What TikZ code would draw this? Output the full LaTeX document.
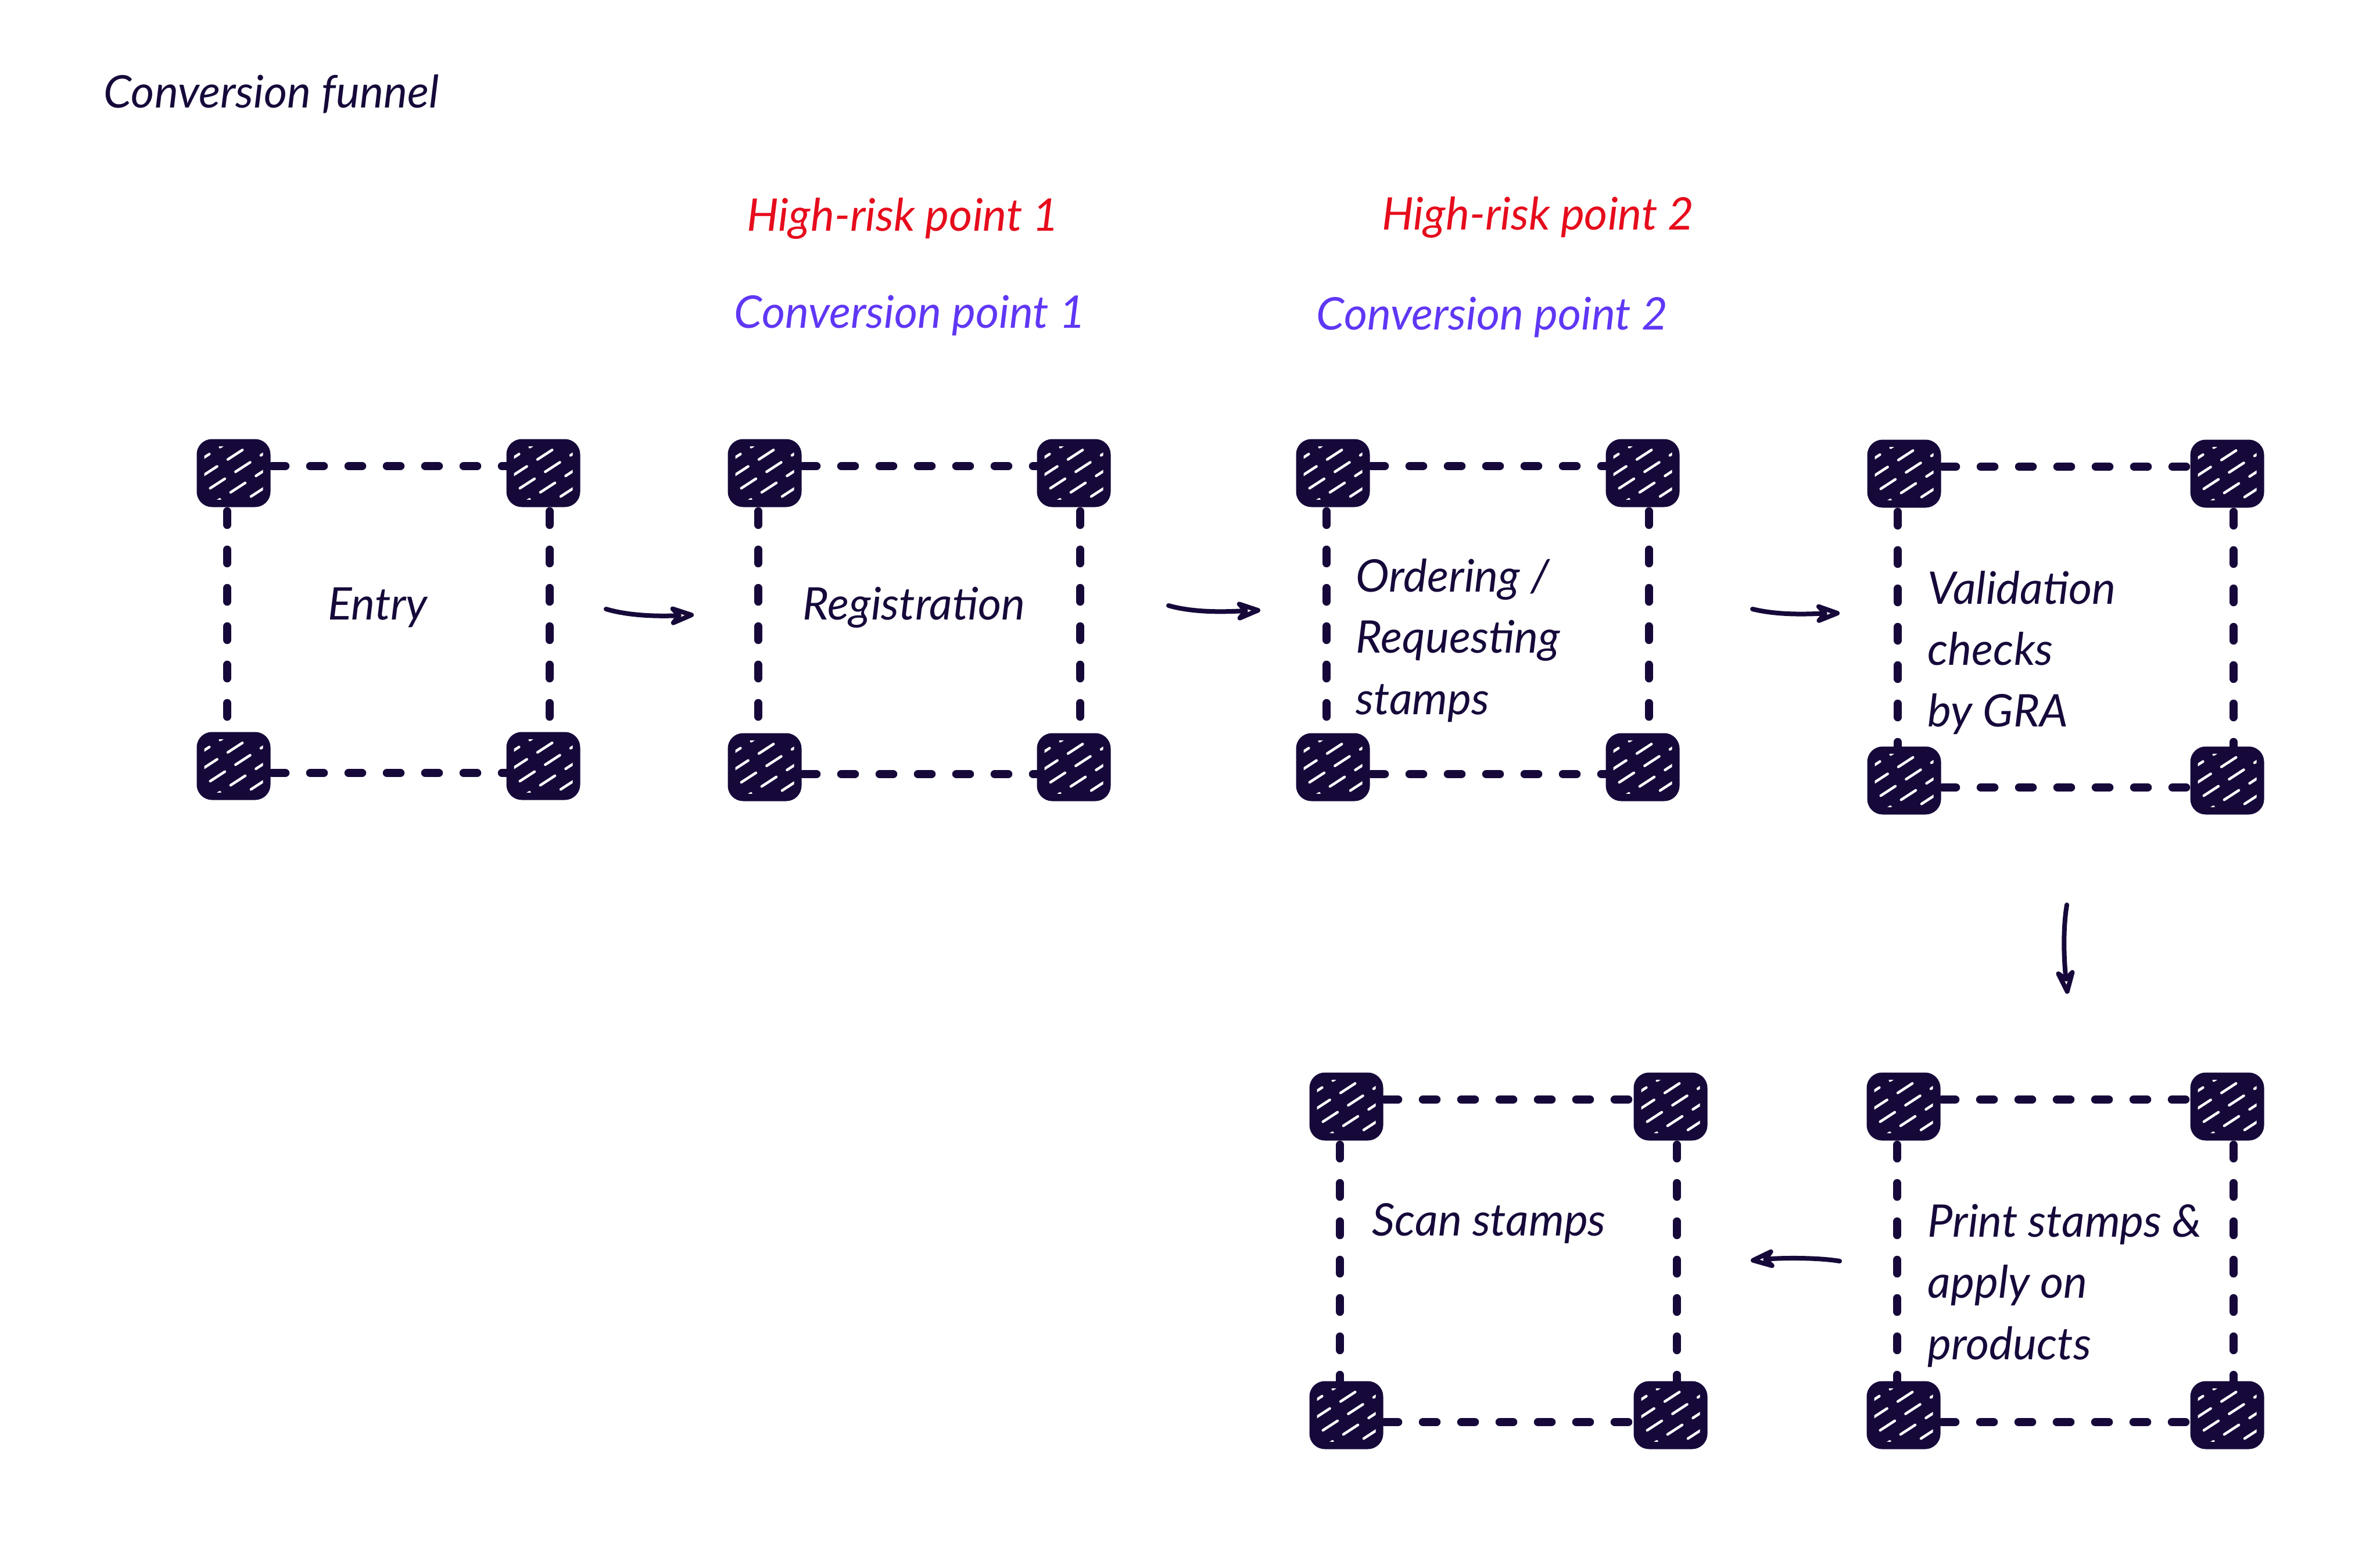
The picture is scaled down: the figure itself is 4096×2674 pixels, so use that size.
\documentclass[tikz,border=0pt]{standalone}
\usepackage{fontspec}
\setmainfont{Lato}
\usetikzlibrary{arrows.meta,backgrounds}
\definecolor{ink}{RGB}{22,9,58}
\definecolor{riskred}{RGB}{230,12,28}
\definecolor{convviolet}{RGB}{95,55,245}
\tikzset{
  sq/.style={draw=ink,fill=ink,rounded corners=2.4mm,minimum width=12.2mm,minimum height=11.2mm,inner sep=0pt,line width=0.5mm},
  dashln/.style={draw=ink,line width=1.45mm,line cap=round,dash pattern=on 2.3mm off 4.3mm},
  hatchln/.style={draw=white,line width=0.45mm,line cap=round},
  txt/.style={inner sep=0pt,font=\itshape\fontsize{22}{30}\selectfont,text=ink},
  lbl/.style={inner sep=0pt,font=\itshape\fontsize{22}{30}\selectfont},
  arr/.style={draw=ink,line width=0.8mm,line cap=round,-{Stealth[open,length=5.6mm,width=4.2mm,inset=1.8mm,round]}}
}
\newcommand\hatchsq[1]{%
  \begin{scope}
    \clip ([shift={(1.3mm,-1.3mm)}]#1.north west) rectangle ([shift={(-1.3mm,1.3mm)}]#1.south east);
    \foreach \k in {-4,...,4}{%
      \pgfmathsetmacro\ph{mod(abs(\k)*13,37)/10}
      \draw[hatchln,dash pattern=on 3mm off 2.2mm,dash phase=\ph mm] ([xshift=\k*4.6mm]#1.center) +(213:10mm) -- +(33:10mm);
    }
  \end{scope}}
\newcommand\stagebox[5]{%
  \node[sq] (#1tl) at (#2,#4) {};
  \node[sq] (#1tr) at (#3,#4) {};
  \node[sq] (#1bl) at (#2,#5) {};
  \node[sq] (#1br) at (#3,#5) {};
  \begin{scope}[on background layer]
    \draw[dashln] ([yshift=1.2mm]#1tl.center) -- ([yshift=1.2mm]#1tr.center);
    \draw[dashln] ([yshift=-1.2mm]#1bl.center) -- ([yshift=-1.2mm]#1br.center);
    \draw[dashln] ([xshift=-1.1mm]#1tl.center) -- ([xshift=-1.1mm]#1bl.center);
    \draw[dashln] ([xshift=1.1mm]#1tr.center) -- ([xshift=1.1mm]#1br.center);
  \end{scope}
  \hatchsq{#1tl}\hatchsq{#1tr}\hatchsq{#1bl}\hatchsq{#1br}}
\begin{document}
\begin{tikzpicture}[x=0.1mm,y=-0.1mm]
  \begin{scope}[on background layer]
    \fill[white] (0,0) rectangle (4096,2674);
  \end{scope}
  \useasboundingbox (0,0) rectangle (4096,2674);

  \node[txt,anchor=west] (title) at (178,162) {Conversion funnel};

  \node[lbl,text=riskred] (risk1) at (1554,376) {High-risk point 1};
  \node[lbl,text=riskred] (risk2) at (2647,374) {High-risk point 2};
  \node[lbl,text=convviolet] (conv1) at (1566,543) {Conversion point 1};
  \node[lbl,text=convviolet] (conv2) at (2568,546) {Conversion point 2};

  \stagebox{ba}{402}{935}{814}{1318}
  \stagebox{bb}{1316}{1848}{814}{1320}
  \stagebox{bc}{2294}{2827}{814}{1320}
  \stagebox{bd}{3277}{3833}{815}{1343}
  \stagebox{be}{2317}{2875}{1904}{2435}
  \stagebox{bf}{3276}{3833}{1904}{2435}

  \node[txt] (entry) at (650,1045) {Entry};
  \node[txt] (registration) at (1573,1045) {Registration};
  \node[txt,anchor=west,align=left] (ordering) at (2333,1102) {Ordering /\\Requesting\\stamps};
  \node[txt,anchor=west,align=left] (validation) at (3317,1123) {Validation\\checks\\by GRA};
  \node[txt,anchor=west,align=left] (print) at (3317,2212) {Print stamps \&\\apply on\\products};
  \node[txt,anchor=west] (scan) at (2361,2105) {Scan stamps};

  \coordinate (a1s) at (1043,1048); \coordinate (a1e) at (1194,1058);
  \coordinate (a2s) at (2011,1042); \coordinate (a2e) at (2169,1050);
  \coordinate (a3s) at (3016,1048); \coordinate (a3e) at (3166,1055);
  \coordinate (a4s) at (3557,1557); \coordinate (a4e) at (3558,1710);
  \coordinate (a5s) at (3166,2170); \coordinate (a5e) at (3013,2169);

  \draw[arr] (a1s) .. controls (1090,1062) and (1150,1060) .. (a1e);
  \draw[arr] (a2s) .. controls (2060,1056) and (2120,1052) .. (a2e);
  \draw[arr] (a3s) .. controls (3065,1060) and (3120,1056) .. (a3e);
  \draw[arr] (a4s) .. controls (3550,1600) and (3552,1650) .. (a4e);
  \draw[arr] (a5s) .. controls (3130,2164) and (3070,2164) .. (a5e);
\end{tikzpicture}
\end{document}
